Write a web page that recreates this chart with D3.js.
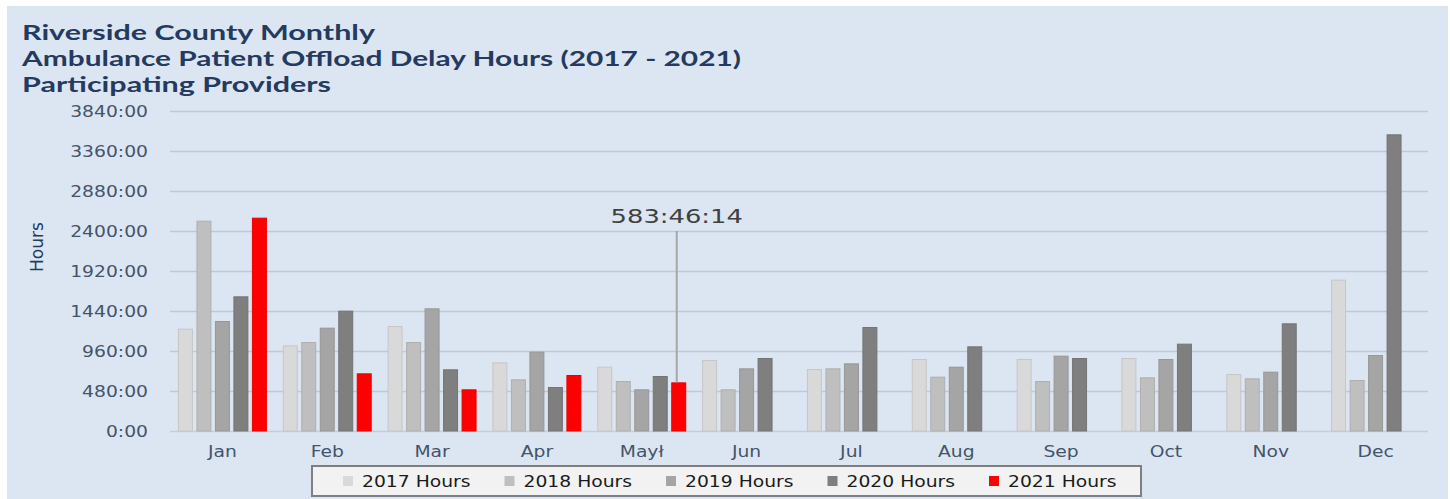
<!DOCTYPE html>
<html>
<head>
<meta charset="utf-8">
<script src="https://cdn.jsdelivr.net/npm/d3@7"></script>
<style>
  html, body { margin: 0; padding: 0; background: #ffffff; }
  svg { display: block; }
</style>
</head>
<body>
<svg id="chart" width="1450" height="499"></svg>
<script>
// ---------------- data ----------------
const titleLines = [
  "Riverside County Monthly",
  "Ambulance  Patient Offload Delay Hours (2017 - 2021)",
  "Participating Providers"
];
const months = ["Jan", "Feb", "Mar", "Apr", "May\u0142", "Jun", "Jul", "Aug", "Sep", "Oct", "Nov", "Dec"];
const seriesNames = ["2017 Hours", "2018 Hours", "2019 Hours", "2020 Hours", "2021 Hours"];
const seriesColors = ["#d9d9d9", "#bfbfbf", "#a5a5a5", "#7f7f7f", "#ff0000"];
const hours2017 = [1228, 1028, 1260, 824, 772, 852, 744, 864, 864, 876, 684, 1816];
const hours2018 = [2524, 1068, 1068, 620, 600, 500, 752, 652, 600, 644, 632, 612];
const hours2019 = [1320, 1240, 1472, 952, 500, 752, 812, 772, 904, 864, 712, 912];
const hours2020 = [1616, 1444, 740, 528, 660, 876, 1248, 1016, 876, 1048, 1292, 3560];
const hours2021 = [2560, 692, 500, 672, 583 + 46 / 60 + 14 / 3600, null, null, null, null, null, null, null];
const yTickValues = [0, 480, 960, 1440, 1920, 2400, 2880, 3360, 3840];
const yAxisTitle = "Hours";
const annotation = { series: 4, month: 4, labelAt: 2400 };

const allSeries = [hours2017, hours2018, hours2019, hours2020, hours2021];

// ---------------- layout ----------------
const svg = d3.select("#chart");
const W = 1450, H = 499;
const plot = { left: 170, right: 1428, top: 111, bottom: 431 };
const textColor = "#44546a";
const titleColor = "#243a5e";
const K = 1.25; // horizontal stretch of text, as in the reference

function stretch(sel, k) {
  sel.each(function () {
    const t = d3.select(this);
    const x = +t.attr("x") || 0, y = +t.attr("y") || 0;
    t.attr("x", 0).attr("y", 0).attr("transform", `translate(${x},${y}) scale(${k},1)`);
  });
}

// background
svg.append("rect").attr("x", 7).attr("y", 6).attr("width", 1441).attr("height", 493)
  .attr("fill", "#dce6f2");

// scales
const x0 = d3.scaleBand().domain(months).range([plot.left, plot.right]).padding(0);
const x1 = d3.scaleBand().domain(d3.range(seriesNames.length))
  .range([0, x0.bandwidth()]).paddingInner(0.19).paddingOuter(0.43);
const y = d3.scaleLinear().domain([0, 3840]).range([plot.bottom, plot.top]);

// title
const titleWidths = [353, 719, 309];
svg.append("g").selectAll("text").data(titleLines).join("text")
  .attr("x", 22).attr("y", (d, i) => 40 + i * 26)
  .attr("font-family", "Lato, 'Open Sans', sans-serif")
  .attr("font-weight", 700).attr("font-size", 21)
  .attr("fill", titleColor)
  .attr("textLength", (d, i) => titleWidths[i])
  .attr("lengthAdjust", "spacingAndGlyphs")
  .text(d => d);

// gridlines
svg.append("g").selectAll("line").data(yTickValues).join("line")
  .attr("x1", plot.left).attr("x2", plot.right)
  .attr("y1", d => y(d) + 0.5).attr("y2", d => y(d) + 0.5)
  .attr("stroke", d => d === 0 ? "#c8cdd4" : "#bfc8d5").attr("stroke-width", 1.3);

// y tick labels
const yLabels = svg.append("g").selectAll("text").data(yTickValues).join("text")
  .attr("x", 148).attr("y", d => y(d) + 5.5)
  .attr("text-anchor", "end")
  .attr("font-family", "'DejaVu Sans', sans-serif").attr("font-size", 15)
  .attr("fill", textColor)
  .text(d => d + ":00");
stretch(yLabels, K);

// y axis title
svg.append("text")
  .attr("transform", `translate(43,${(plot.top + plot.bottom) / 2 - 24}) rotate(-90)`)
  .attr("text-anchor", "middle")
  .attr("font-family", "'DejaVu Sans Condensed', 'DejaVu Sans', sans-serif").attr("font-size", 17)
  .attr("fill", titleColor)
  .attr("textLength", 50).attr("lengthAdjust", "spacingAndGlyphs")
  .text(yAxisTitle);

// bars
const groups = svg.append("g").selectAll("g").data(months).join("g")
  .attr("transform", d => `translate(${x0(d)},0)`);
groups.selectAll("rect")
  .data((m, mi) => allSeries.map((s, si) => ({ si, v: s[mi] })).filter(d => d.v != null))
  .join("rect")
  .attr("x", d => x1(d.si) + 0.5)
  .attr("width", x1.bandwidth() - 1)
  .attr("y", d => y(d.v) + 0.5)
  .attr("height", d => y(0) - y(d.v) - 0.5)
  .attr("fill", d => seriesColors[d.si])
  .attr("stroke", d => d3.color(seriesColors[d.si]).darker(0.25))
  .attr("stroke-width", 1);

// month labels
const mLabels = svg.append("g").selectAll("text").data(months).join("text")
  .attr("x", d => x0(d) + x0.bandwidth() / 2)
  .attr("y", 457)
  .attr("text-anchor", "middle")
  .attr("font-family", "'DejaVu Sans', sans-serif").attr("font-size", 15)
  .attr("fill", textColor)
  .text(d => d);
stretch(mLabels, K);

// annotation for the partial month
const aVal = allSeries[annotation.series][annotation.month];
const ax = x0(months[annotation.month]) + x1(annotation.series) + x1.bandwidth() / 2 - 2;
function fmtHMS(h) {
  const totalSec = Math.round(h * 3600);
  const hh = Math.floor(totalSec / 3600);
  const mm = Math.floor((totalSec % 3600) / 60);
  const ss = totalSec % 60;
  return `${hh}:${String(mm).padStart(2, "0")}:${String(ss).padStart(2, "0")}`;
}
svg.append("line")
  .attr("x1", ax).attr("x2", ax)
  .attr("y1", y(annotation.labelAt)).attr("y2", y(aVal))
  .attr("stroke", "#a6a6a6").attr("stroke-width", 2);
const aText = svg.append("text")
  .attr("x", ax).attr("y", y(annotation.labelAt) - 8)
  .attr("text-anchor", "middle")
  .attr("font-family", "'DejaVu Sans', sans-serif").attr("font-size", 20)
  .attr("fill", "#404040")
  .text(fmtHMS(aVal));
stretch(aText, 1.29);

// legend
const legend = svg.append("g");
legend.append("rect").attr("x", 312).attr("y", 466).attr("width", 829).attr("height", 30)
  .attr("fill", "#f2f2f2").attr("stroke", "#7f7f7f").attr("stroke-width", 2);
const items = legend.selectAll("g.item").data(seriesNames).join("g")
  .attr("class", "item")
  .attr("transform", (d, i) => `translate(${343 + i * 161.5},481)`);
items.append("rect").attr("x", 0).attr("y", -5).attr("width", 10).attr("height", 10)
  .attr("fill", (d, i) => seriesColors[i]);
const lText = items.append("text").attr("x", 19).attr("y", 5.5)
  .attr("font-family", "'DejaVu Sans', sans-serif").attr("font-size", 15)
  .attr("fill", "#1a1a1a")
  .text(d => d);
lText.each(function () {
  const t = d3.select(this);
  t.attr("x", 0).attr("y", 0).attr("transform", `translate(19,5.5) scale(${K},1)`);
});
</script>
</body>
</html>
